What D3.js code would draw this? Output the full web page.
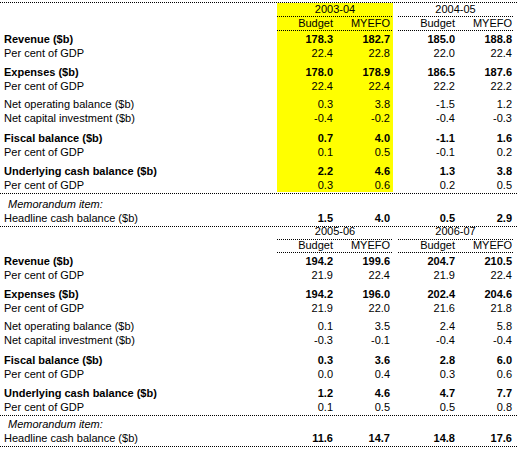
<!DOCTYPE html>
<html><head><meta charset="utf-8">
<script src="https://cdn.jsdelivr.net/npm/d3@7"></script>
<style>body{margin:0;background:#fff}text{font-family:"Liberation Sans",Arial,sans-serif;font-size:11px;fill:#000}</style>
</head><body><svg id="c" width="518" height="452"></svg>
<script>
const rowLabels=["Revenue ($b)","Per cent of GDP","Expenses ($b)","Per cent of GDP","Net operating balance ($b)","Net capital investment ($b)","Fiscal balance ($b)","Per cent of GDP","Underlying cash balance ($b)","Per cent of GDP","Memorandum item:","Headline cash balance ($b)"];
const boldRows=[0,2,6,8];
const years=["2003-04","2004-05","2005-06","2006-07"];
const subCols=["Budget","MYEFO"];
const v0304b=["178.3","22.4","178.0","22.4","0.3","-0.4","0.7","0.1","2.2","0.3","","1.5"];
const v0304m=["182.7","22.8","178.9","22.4","3.8","-0.2","4.0","0.5","4.6","0.6","","4.0"];
const v0405b=["185.0","22.0","186.5","22.2","-1.5","-0.4","-1.1","-0.1","1.3","0.2","","0.5"];
const v0405m=["188.8","22.4","187.6","22.2","1.2","-0.3","1.6","0.2","3.8","0.5","","2.9"];
const v0506b=["194.2","21.9","194.2","21.9","0.1","-0.3","0.3","0.0","1.2","0.1","","11.6"];
const v0506m=["199.6","22.4","196.0","22.0","3.5","-0.1","3.6","0.4","4.6","0.5","","14.7"];
const v0607b=["204.7","21.9","202.4","21.6","2.4","-0.4","2.8","0.3","4.7","0.5","","14.8"];
const v0607m=["210.5","22.4","204.6","21.8","5.8","-0.4","6.0","0.6","7.7","0.8","","17.6"];

const svg=d3.select("#c");
const rowY=[43,57,76,90,108,122,142,156,175,189,208,222];
const blocks=[{top:0,yrs:[0,1],vals:[[v0304b,v0304m],[v0405b,v0405m]],memo:0},
              {top:222,yrs:[2,3],vals:[[v0506b,v0506m],[v0607b,v0607m]],memo:-2}];
const groupX=[[277,393],[398,513]];
const colRight=[333,390,455,512];
function dots(x1,x2,y){svg.append("line").attr("x1",x1).attr("x2",x2).attr("y1",y+0.5).attr("y2",y+0.5).attr("stroke","#000").attr("stroke-dasharray","1,1");}
svg.append("rect").attr("x",277).attr("y",3).attr("width",116).attr("height",189).attr("fill","#ffff00");
dots(0,518,2);
blocks.forEach((b,bi)=>{
  const t=b.top;
  b.yrs.forEach((yi,gi)=>{
    const [x1,x2]=groupX[gi];
    svg.append("text").attr("x",(x1+x2)/2).attr("y",t+13).attr("text-anchor","middle").text(years[yi]);
    if(!(bi===0&&gi===0)||true) dots(x1,x2,t+(bi? 17:16));
    subCols.forEach((s,si)=>svg.append("text").attr("x",colRight[gi*2+si]).attr("y",t+27).attr("text-anchor","end").text(s));
    dots(x1,x2,t+30);
  });
  rowLabels.forEach((l,ri)=>{
    let y=t+rowY[ri]+(ri>=10?b.memo:0);
    const bold=boldRows.includes(ri);
    const tx=svg.append("text").attr("x",ri===10?8:4).attr("y",y).text(l);
    if(bold) tx.attr("font-weight","bold");
    if(ri===10) tx.attr("font-style","italic");
    b.vals.forEach((pair,gi)=>pair.forEach((arr,si)=>{
      if(!arr[ri]) return;
      const e=svg.append("text").attr("x",colRight[gi*2+si]).attr("y",y).attr("text-anchor","end").text(arr[ri]);
      if(bold||ri===11) e.attr("font-weight","bold");
    }));
  });
  dots(0,518,t+193);
  dots(0,518,t+226+b.memo);
});
</script></body></html>
